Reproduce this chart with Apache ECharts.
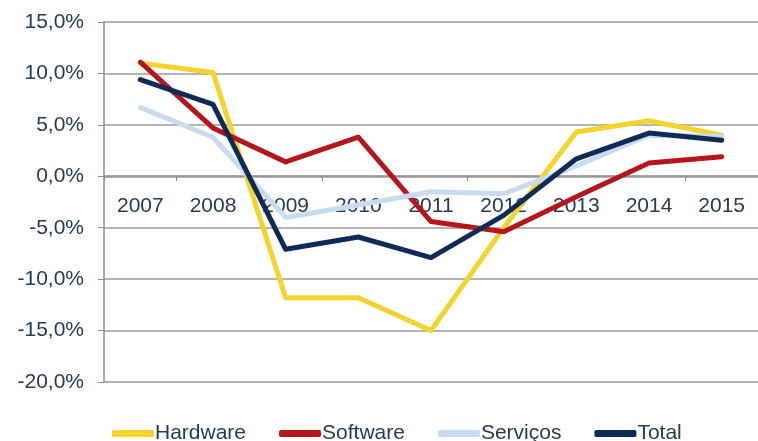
<!DOCTYPE html>
<html>
<head>
<meta charset="utf-8">
<script src="https://cdn.jsdelivr.net/npm/echarts@6/dist/echarts.min.js"></script>
<style>html,body{margin:0;padding:0;background:#fff}#c{width:758px;height:441px}</style>
</head>
<body>
<div id="c"></div>
<script>
const years = ['2007','2008','2009','2010','2011','2012','2013','2014','2015'];
const hardware = [11.0, 10.1, -11.8, -11.8, -15.0, -5.0, 4.3, 5.4, 4.0];
const software = [11.1, 4.7, 1.4, 3.8, -4.4, -5.4, -2.0, 1.3, 1.9];
const servicos = [6.7, 3.8, -4.0, -2.8, -1.5, -1.7, 1.0, 4.0, 3.9];
const total = [9.4, 7.0, -7.1, -5.9, -7.9, -3.8, 1.7, 4.2, 3.5];
const seriesNames = ['Hardware','Software','Serviços','Total'];
const colors = ['#f4d32c','#b3161b','#c9dcef','#0e2a57'];

const chart = echarts.init(document.getElementById('c'), null, {renderer:'canvas'});
const txt = '#253a55';
const font = 'Liberation Sans, Arial, sans-serif';
function mk(name, data, color){
  return {name, type:'line', data, symbol:'none', smooth:false, z:10, zlevel:1,
    lineStyle:{color, width:5, cap:'round', join:'round'}, itemStyle:{color}};
}
chart.setOption({
  animation:false,
  grid:{left:104, top:22, bottom:59, width:660, containLabel:false},
  legend:{
    data:seriesNames, left:107, top:418, itemWidth:42, itemHeight:7, itemGap:33,
    icon:'roundRect',
    textStyle:{color:txt, fontSize:21, fontFamily:font, padding:[0,0,0,-4]}
  },
  xAxis:{
    type:'category', data:years, boundaryGap:true, position:'bottom', offset:-206, z:0,
    axisLine:{onZero:false, lineStyle:{color:'#8c8c8c', width:1.5}},
    axisTick:{show:true, length:5, inside:false, lineStyle:{color:'#8c8c8c'}},
    axisLabel:{color:txt, fontSize:21, fontFamily:font, margin:20},
    splitLine:{show:false}
  },
  yAxis:{
    type:'value', min:-20, max:15, interval:5, z:0,
    axisLine:{show:true, lineStyle:{color:'#8c8c8c', width:1.5}},
    axisTick:{show:true, length:6, lineStyle:{color:'#8c8c8c'}},
    axisLabel:{color:txt, fontSize:21, fontFamily:font, margin:20,
      formatter:v=>v.toFixed(1).replace('.',',')+'%'},
    splitLine:{show:true, lineStyle:{color:'#b4b4b4', width:2}}
  },
  series:[mk('Hardware',hardware,colors[0]), mk('Software',software,colors[1]),
          mk('Serviços',servicos,colors[2]), mk('Total',total,colors[3])]
});
</script>
</body>
</html>
